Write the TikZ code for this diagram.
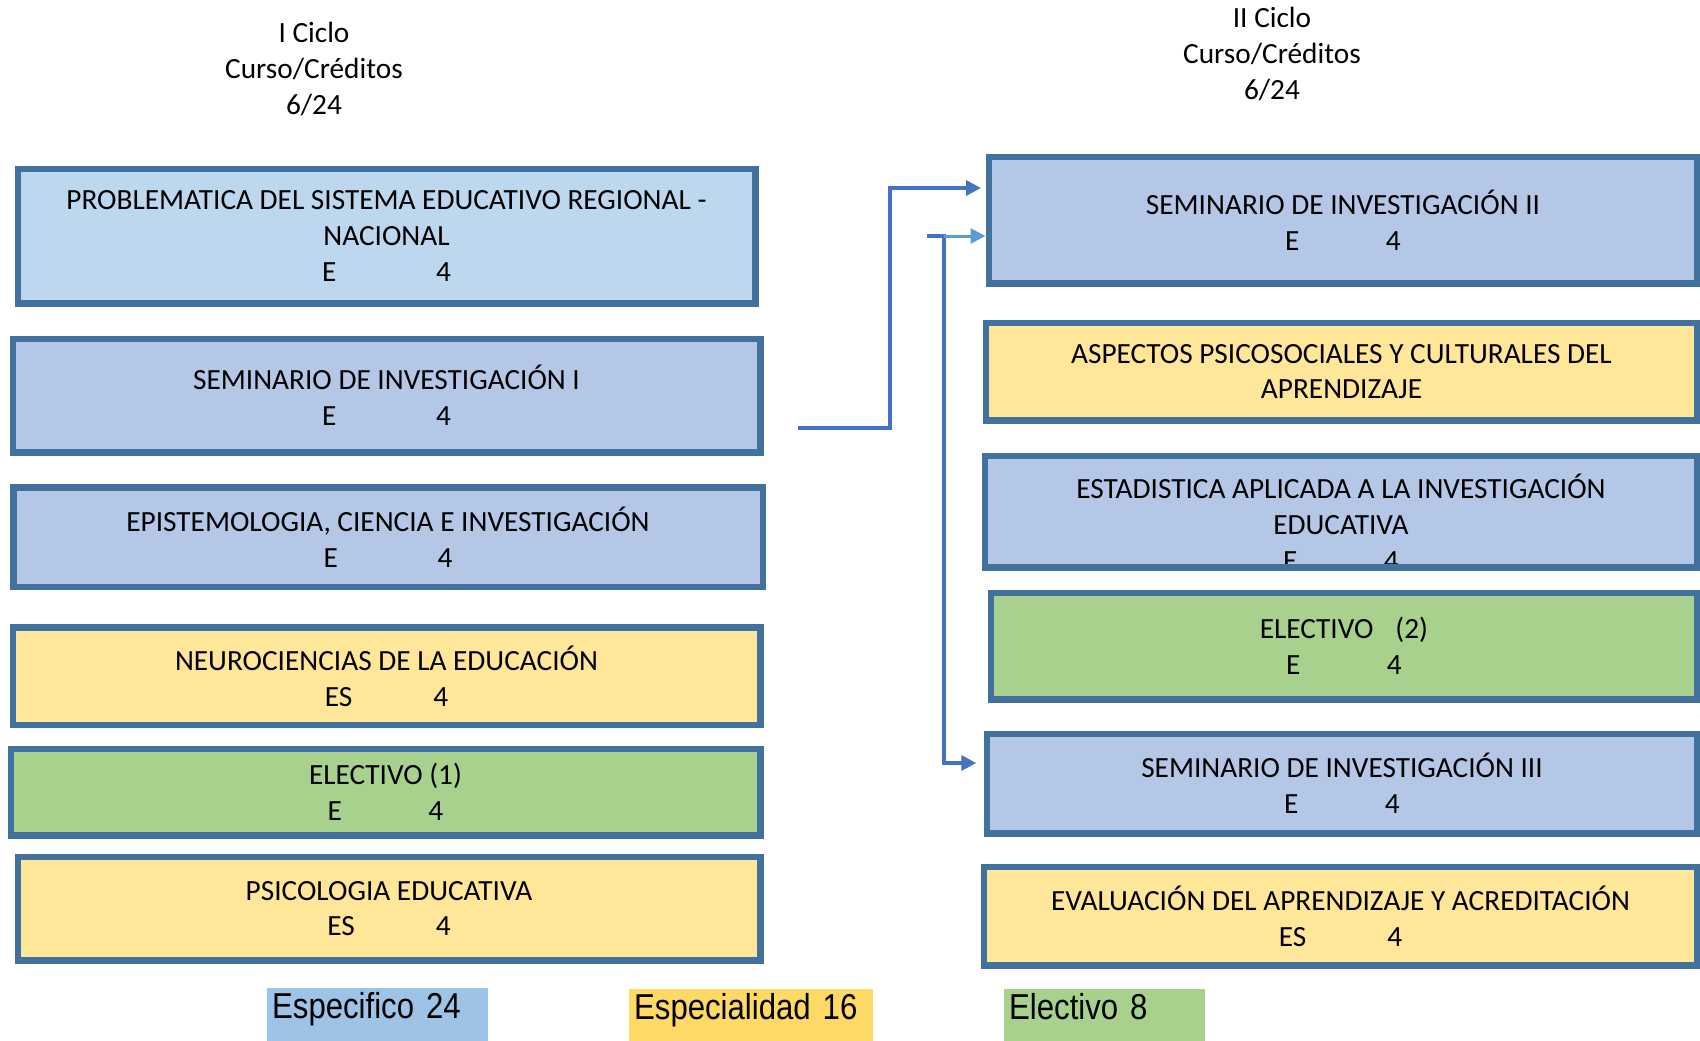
\documentclass[tikz,border=0pt]{standalone}
\usepackage{fontspec}
\setmainfont{Carlito}
\newfontfamily\leyendafont[FakeStretch=0.865]{Liberation Sans}
\usetikzlibrary{arrows.meta, positioning}
\definecolor{borde}{HTML}{41719C}
\definecolor{celeste}{HTML}{BDD7EE}
\definecolor{azul}{HTML}{B4C7E7}
\definecolor{amarillo}{HTML}{FFE699}
\definecolor{verde}{HTML}{A9D18E}
\definecolor{leyazul}{HTML}{9DC3E6}
\definecolor{leyamarillo}{HTML}{FFD966}
\definecolor{flecha}{HTML}{4472C4}
\definecolor{flechaclara}{HTML}{5B9BD5}
\newcommand{\credito}[2][3.44em]{\makebox[#1][l]{#2}4}
\tikzset{PlanEstudios/.style={
    x = 1pt, y = -1pt,
    font = \fontsize{29.3}{35.8}\selectfont,
    base/.style = {draw=borde, line width=6.5pt, align=center, inner sep=0pt},
    general/.style = {base, fill=celeste},
    especifico/.style = {base, fill=azul},
    especialidad/.style = {base, fill=amarillo},
    electivo/.style = {base, fill=verde},
    ciclo/.style = {align=center},
    leyenda/.style = {anchor=north west, font=\leyendafont\fontsize{36}{40}\selectfont,
        minimum height=53pt, text height=30pt, text depth=23pt,
        inner xsep=5pt, inner ysep=0pt, align=left},
    enlace/.style = {draw=flecha, line width=3.5pt, -{Triangle[length=15pt,width=15pt]}}
}}

\begin{document}
\begin{tikzpicture}[PlanEstudios]
    \useasboundingbox (0,0) rectangle (1700,1041);

    \node (c1) [ciclo] at (314,69) {I Ciclo\\Curso/Créditos\\6/24};
    \node (c2) [ciclo] at (1272,54) {II Ciclo\\Curso/Créditos\\6/24};

    % I ciclo
    \node (L1) [general, minimum width=737.5pt, minimum height=134.5pt] at (386.5,236) {
        PROBLEMATICA DEL SISTEMA EDUCATIVO REGIONAL -\\NACIONAL\\\credito[3.89em]{E}
    };
    \node (L2) [especifico, minimum width=747.5pt, minimum height=113.5pt] at (386.5,395.5) {
        SEMINARIO DE INVESTIGACIÓN I\\\credito[3.89em]{E}
    };
    \node (L3) [especifico, minimum width=749.5pt, minimum height=99.5pt] at (388,537) {
        EPISTEMOLOGIA, CIENCIA E INVESTIGACIÓN\\\credito[3.89em]{E}
    };
    \node (L4) [especialidad, minimum width=747.5pt, minimum height=97.5pt] at (386.5,676) {
        NEUROCIENCIAS DE LA EDUCACIÓN\\\credito[3.7em]{ES}
    };
    \node (L5) [electivo, minimum width=749.5pt, minimum height=86.5pt] at (385.5,792) {
        ELECTIVO (1)\\\credito{E}
    };
    \node (L6) [especialidad, minimum width=742.5pt, minimum height=103.5pt] at (389,908.5) {
        PSICOLOGIA EDUCATIVA\\\credito[3.7em]{ES}
    };

    % II ciclo
    \node (R1) [especifico, minimum width=708.5pt, minimum height=126.5pt] at (1343,220) {
        SEMINARIO DE INVESTIGACIÓN II\\\credito{E}
    };
    \node (R2) [especialidad, minimum width=711.5pt, minimum height=97.5pt] at (1341.5,371.5) {
        ASPECTOS PSICOSOCIALES Y CULTURALES DEL\\APRENDIZAJE
    };
    \node (R3) [especifico, minimum width=712.5pt, minimum height=111.5pt,
        path picture={\node [align=center] at ([yshift=-11pt]path picture bounding box.center)
            {ESTADISTICA APLICADA A LA INVESTIGACIÓN\\EDUCATIVA\\\credito{E}};}] at (1341,511.5) {};
    \node (R4) [electivo, minimum width=706.5pt, minimum height=106.5pt] at (1344,646) {
        ELECTIVO\hspace{0.75em}(2)\\\credito{E}
    };
    \node (R5) [especifico, minimum width=710pt, minimum height=99.5pt] at (1342,783.5) {
        SEMINARIO DE INVESTIGACIÓN III\\\credito{E}
    };
    \node (R6) [especialidad, minimum width=713.5pt, minimum height=98.5pt] at (1340.5,916) {
        EVALUACIÓN DEL APRENDIZAJE Y ACREDITACIÓN\\\credito[3.7em]{ES}
    };

    % enlaces
    \coordinate (p1) at (798,428);
    \coordinate (q1) at (890,188);
    \draw [enlace, shorten >=4.5pt] (p1) -| (q1) -- (q1 -| R1.west);
    \coordinate (p2) at (927,236);
    \coordinate (q2) at (944,236);
    \draw [enlace, shorten >=7.5pt] (p2) -- (q2) |- ([yshift=20.5pt]R5.west);
    \draw [enlace, draw=flechaclara, line width=3pt] (q2) -- (q2 -| R1.west);

    % leyenda
    \node (g1) [leyenda, fill=leyazul, text width=211pt] at (267,988) {Especifico 24};
    \node (g2) [leyenda, fill=leyamarillo, text width=234pt] at (629,989) {Especialidad 16};
    \node (g3) [leyenda, fill=verde, text width=191pt] at (1004,989) {Electivo 8};
\end{tikzpicture}
\end{document}
